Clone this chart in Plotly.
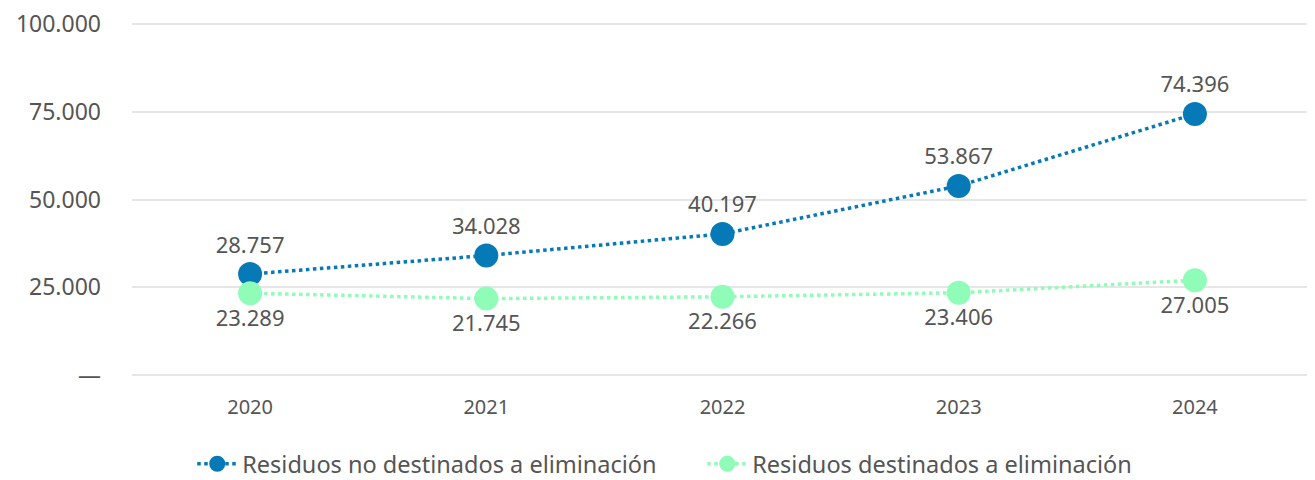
import plotly.graph_objects as go

years = ["2020", "2021", "2022", "2023", "2024"]
no_elim = [28757, 34028, 40197, 53867, 74396]
elim = [23289, 21745, 22266, 23406, 27005]
tick_vals = [0, 25000, 50000, 75000, 100000]
tick_text = ["—", "25.000", "50.000", "75.000", "100.000"]

def fmt(v):
    return f"{v:,}".replace(",", ".")

FONT = "Noto Sans"
GREY = "#555555"
fig = go.Figure()
fig.add_trace(go.Scatter(
    x=years, y=no_elim, name="Residuos no destinados a eliminación",
    mode="lines+markers+text",
    line=dict(color="#0679B7", width=3.5, dash="dot"),
    marker=dict(size=24, color="#0679B7"),
    text=[fmt(v) for v in no_elim], textposition="top center",
    textfont=dict(size=22, color=GREY, family=FONT),
))
fig.add_trace(go.Scatter(
    x=years, y=elim, name="Residuos destinados a eliminación",
    mode="lines+markers+text",
    line=dict(color="#8FFCB8", width=3.5, dash="dot"),
    marker=dict(size=24, color="#8FFCB8"),
    text=[fmt(v) for v in elim], textposition="bottom center",
    textfont=dict(size=22, color=GREY, family=FONT),
))
# page body adds an 8px margin, so the figure is 8px smaller and offsets are reduced
fig.update_layout(
    width=1307, height=472,
    margin=dict(l=124, r=2, t=14, b=103, autoexpand=False),
    plot_bgcolor="white", paper_bgcolor="white",
    font=dict(family=FONT, color=GREY),
    showlegend=True,
    legend=dict(orientation="h", x=0.051, xanchor="left", y=-0.245, yanchor="middle",
                font=dict(size=23.5, color=GREY), itemwidth=40, tracegroupgap=0,
                entrywidth=455, entrywidthmode="pixels"),
    xaxis=dict(type="category", range=[-0.5, 4.5], showgrid=False, showline=False,
               ticks="", tickfont=dict(size=20, color=GREY), ticklabelstandoff=16,
               automargin=False),
    yaxis=dict(range=[-600, 100600], tickvals=tick_vals, ticktext=tick_text,
               gridcolor="#E6E6E6", gridwidth=2, zeroline=False, showline=False,
               tickfont=dict(size=23, color=GREY), ticklabelstandoff=30,
               ticklabeloverflow="allow", automargin=False),
)
fig.write_html("out.html")
